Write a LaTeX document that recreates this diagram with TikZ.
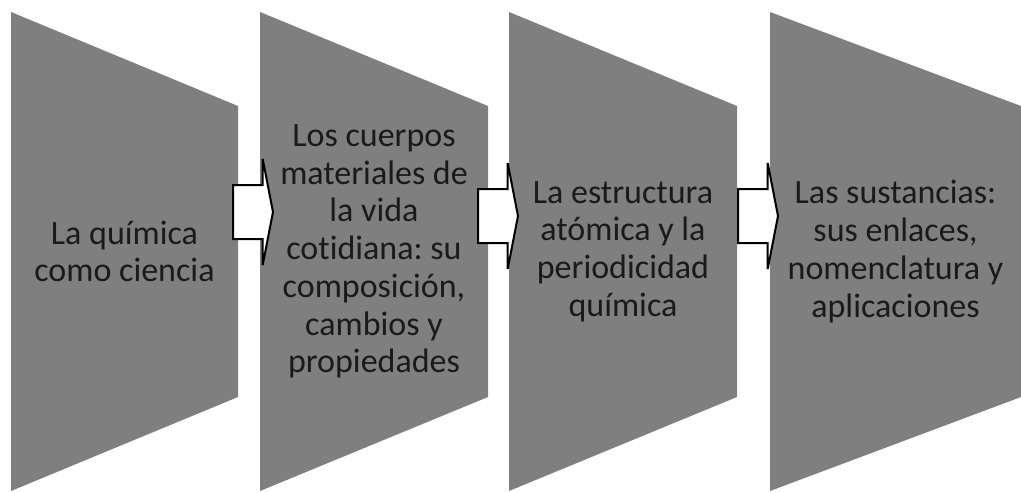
\documentclass[tikz,border=0pt]{standalone}
\usepackage{fontspec}
\setmainfont[Ligatures=NoCommon]{Carlito}
\usetikzlibrary{shapes,arrows}
\definecolor{stagegray}{HTML}{7F7F7F}
\definecolor{labelink}{HTML}{1A1A1A}
\frenchspacing

\begin{document}
\begin{tikzpicture}[x=0.75pt, y=-0.75pt, >=latex]
      \tikzstyle{stage}=[fill=stagegray, draw=none]
      \tikzstyle{label}=[align=center, text=labelink, inner sep=0pt,
        font=\fontsize{25.5pt}{28.3pt}\selectfont]
      \tikzstyle{flow}=[single arrow, draw=black, fill=white, line width=1.5pt,
        inner xsep=0pt, inner ysep=19.5pt, minimum height=30pt,
        single arrow head extend=19.5pt, single arrow tip angle=158,
        anchor=tail]
      \useasboundingbox (0,0) rectangle (1021,492);
      % trapezoids
      \foreach \l/\r in {11/238, 260/488, 509/737, 770/1021}
        \fill[stage] (\l,12) -- (\r,106) -- (\r,397) -- (\l,491) -- cycle;
      \node[label] (ciencia) at (124.5,251.5) {La química\\como ciencia};
      \node[label] (cuerpos) at (374,251.5) {Los cuerpos\\materiales de\\la vida\\cotidiana: su\\composición,\\cambios y\\propiedades};
      \node[label] (atomo) at (623,251.5) {La estructura\\atómica y la\\periodicidad\\química};
      \node[label] (sustancias) at (895.5,251.5) {Las sustancias:\\sus enlaces,\\nomenclatura y\\aplicaciones};
      % block arrows
      \node[flow] (f1) at (232,212) {};
      \node[flow] (f2) at (477,216) {};
      \node[flow] (f3) at (737,216) {};
\end{tikzpicture}
\end{document}
